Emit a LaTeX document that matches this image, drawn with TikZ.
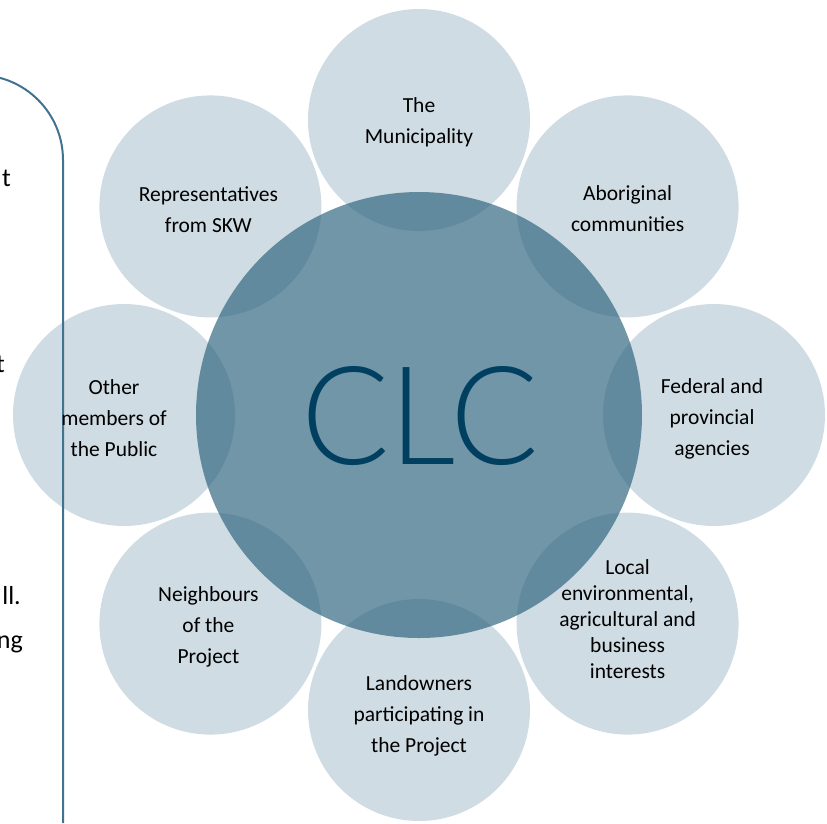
\documentclass[tikz,border=0pt]{standalone}
\usepackage{fontspec}
\setmainfont{Carlito}
\newfontfamily\clcfont{Lato}[UprightFont=* Light]
\definecolor{outerc}{RGB}{208,220,227}
\definecolor{centc}{RGB}{45,100,127}
\definecolor{clctext}{RGB}{0,63,95}
\definecolor{panelline}{RGB}{65,114,143}
\begin{document}
\begin{tikzpicture}[x=1pt,y=-1pt,
  outer/.style={circle,fill=outerc,minimum size=222pt,inner sep=0pt},
  lab/.style={align=center,text=black,inner sep=0pt,font=\fontsize{21.5}{31}\selectfont},
  labtight/.style={lab,font=\fontsize{21.5}{26}\selectfont},
  frag/.style={anchor=base east,inner sep=0pt,text=black,font=\fontsize{26}{26}\selectfont},
  panel/.style={draw=panelline,line width=2pt}]
\useasboundingbox (0,0) rectangle (827,823);
\clip (0,0) rectangle (827,823);
% outer circles
\node[outer] (top) at (419,120) {};
\node[outer] (tr) at (627.6,206.4) {};
\node[outer] (right) at (714,415) {};
\node[outer] (br) at (627.6,623.6) {};
\node[outer] (bottom) at (419,710) {};
\node[outer] (bl) at (210.4,623.6) {};
\node[outer] (left) at (124,415) {};
\node[outer] (tl) at (210.4,206.4) {};
% central circle
\node[circle,fill=centc,fill opacity=0.68,minimum size=446pt,inner sep=0pt] (clc) at (419,415) {};
\node[inner sep=0pt,text=clctext,xscale=0.955,transform shape,font=\fontsize{137}{137}\clcfont] (clclabel) at (420,416) {CLC};
% left panel border
\draw[panel] (63,823) -- (63,160) arc[start angle=0,end angle=-90,radius=85] -- (-40,75);
% fragments of panel text
\node[frag] (f1) at (11,186) {t};
\node[frag] (f2) at (5,372) {t};
\node[frag] (f3) at (21,604) {ll.};
\node[frag] (f4) at (23,648) {ng};
% labels
\node[lab] (ltop) at ([shift={(0,2)}]top.center) {The\\Municipality};
\node[lab] (ltr) at ([shift={(0,2)}]tr.center) {Aboriginal\\communities};
\node[lab] (lright) at ([shift={(-2,4)}]right.center) {Federal and\\provincial\\agencies};
\node[labtight] (lbr) at ([shift={(0,-4)}]br.center) {Local\\environmental,\\agricultural and\\business\\interests};
\node[lab] (lbottom) at ([shift={(0,6)}]bottom.center) {Landowners\\participating in\\the Project};
\node[lab] (lbl) at ([shift={(-2,3)}]bl.center) {Neighbours\\of the\\Project};
\node[lab] (lleft) at ([shift={(-10,3)}]left.center) {Other\\members of\\the Public};
\node[lab] (ltl) at ([shift={(-2,3)}]tl.center) {Representatives\\from SKW};
\end{tikzpicture}
\end{document}
